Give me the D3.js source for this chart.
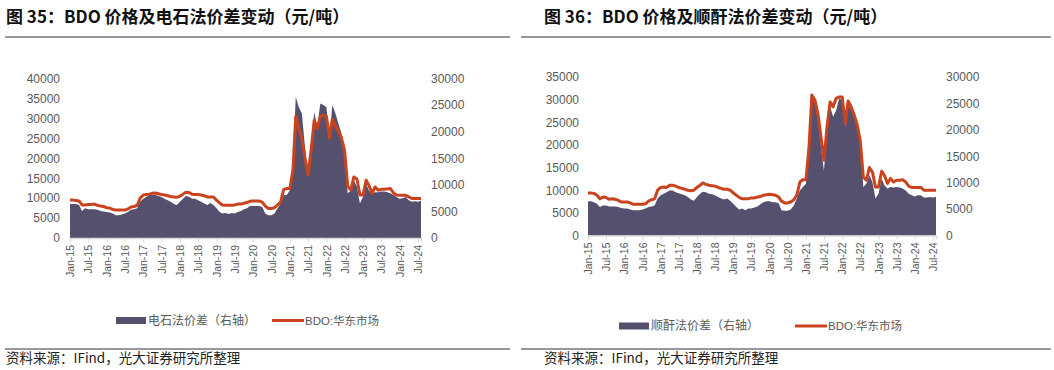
<!DOCTYPE html>
<html>
<head>
<meta charset="utf-8">
<script src="https://cdn.jsdelivr.net/npm/d3@7"></script>
<style>
  body { margin: 0; background: #fff; }
  svg { display: block; }
</style>
</head>
<body>
<div id="chart"></div>
<script>
// monthly observations, Jan-15 .. Aug-24
const months = d3.timeMonth.range(new Date(2015, 0, 1), new Date(2024, 8, 1));
const tickDates = d3.timeMonth.every(6).range(new Date(2015, 0, 1), new Date(2024, 7, 1));

// fig 35: BDO East China price (left axis) and carbide-route spread (right axis)
const bdoPriceA = [
  9500,9500,9400,9300,8300,8300,8400,8400,8500,8200,8000,7900,
  7600,7500,7200,7000,7000,7000,7000,7300,7800,7900,8200,10000,
  10800,10900,11000,11200,11300,11100,10900,10800,10600,10400,10300,10200,
  10500,11000,11500,11400,11000,10900,10900,10800,10600,10300,10300,10300,
  9500,8800,8300,8200,8200,8200,8300,8500,8500,8700,8900,9200,
  9300,9300,9300,9000,8000,7400,7400,7600,8300,9000,12200,12400,
  12400,17000,30500,27500,25000,20000,15800,22000,29500,27500,30500,30800,
  30500,25000,29800,28000,26800,25000,22000,13000,12000,15300,14800,10800,
  10800,14500,13200,11200,12800,12000,12200,12200,12300,12400,11300,10800,
  10700,10700,10700,10300,9900,9900,9900,9900
];
const spreadCarbide = [
  6400,6400,6400,6200,5100,5600,5400,5400,5400,5300,5100,5000,
  4900,4800,4600,4300,4300,4400,4600,4900,5300,5400,5600,6800,
  7400,7750,8100,8100,8100,7900,7700,7400,7100,6800,6400,6200,
  6800,7400,7900,7750,7400,7400,7100,6800,6500,6200,6600,6200,
  5600,4900,4600,4700,4500,4700,4600,4900,5100,5400,5600,6000,
  6000,6000,6000,5850,4600,4300,4300,4600,5600,6500,8100,8100,
  9000,14000,26500,24600,23400,17100,11800,17000,23700,20900,25300,25000,
  24600,19000,25000,23400,21500,19600,17000,8400,8900,10900,9600,6500,
  7750,10250,8900,8400,8600,8600,8750,8750,8600,8400,8100,7700,
  7400,7500,7700,7100,6800,6900,6800,7000
];

// fig 36: BDO East China price (left axis) and maleic-anhydride-route spread (right axis)
const bdoPriceB = [
  9400,9400,9300,8900,8100,8500,8400,8000,8100,8000,7750,7400,
  7400,7400,7200,6900,6900,6900,6900,7000,7600,7900,8100,10000,
  10600,10700,10600,11100,11100,10900,10600,10400,10200,10000,9900,10000,
  10600,11100,11600,11300,11100,11000,10900,10600,10400,10200,10200,10000,
  9400,8900,8400,8100,8100,8100,8300,8300,8500,8600,8900,9000,
  9100,9000,8900,8500,7600,7200,7200,7400,7900,8900,11800,12300,
  12300,19600,31000,29900,27000,21800,16600,24000,29500,28400,30300,30600,
  30600,24700,29700,28400,26600,24400,21000,12900,12200,15000,14000,10700,
  10700,14200,13300,11500,12600,11800,12200,12200,12300,11800,10900,10600,
  10600,10600,10600,10000,10000,10000,10000,10000
];
const spreadMaleic = [
  6500,6500,6300,6000,5400,5700,5700,5500,5500,5500,5400,5200,
  5100,5100,4900,4800,4800,4800,4900,5100,5400,5500,5700,7000,
  7600,7900,8200,8500,8500,8200,8000,7800,7600,7300,6800,6600,
  7300,7900,8300,8200,7900,7800,7600,7300,7000,6800,7000,6600,
  6000,5400,4900,5100,4800,5100,5100,5300,5500,5900,6300,6500,
  6500,6300,6300,6100,4800,4700,4700,4900,5700,7000,8500,9200,
  9800,16800,26900,25000,21800,16800,12300,19300,24400,22500,23700,26000,
  25600,20600,25000,23700,22200,20600,17400,9200,9800,11400,10100,7000,
  7900,10800,9500,8900,9200,9100,9200,9100,8900,8500,7900,7600,
  7400,7600,7600,7200,7200,7300,7200,7300
];

const titles = ["图 35：BDO 价格及电石法价差变动（元/吨）", "图 36：BDO 价格及顺酐法价差变动（元/吨）"];
const areaNames = ["电石法价差（右轴）", "顺酐法价差（右轴）"];
const lineName = "BDO:华东市场";
const sourceText = "资料来源：IFind，光大证券研究所整理";

const AREA_COLOR = "#56506f",
      LINE_COLOR = "#c9431f",
      AXIS_TEXT = "#595959",
      LATIN = "'Liberation Sans', Arial, 'Noto Sans CJK SC', sans-serif",
      CJK = "'Noto Sans CJK SC', 'Liberation Sans', sans-serif";

const svg = d3.select("#chart").append("svg")
  .attr("width", 1054)
  .attr("height", 370);

const panels = [
  { title: titles[0], areaName: areaNames[0], price: bdoPriceA, spread: spreadCarbide, leftMax: 40000,
    left: 5, right: 510, titleX: 6, x0: 70, x1: 421, yb: 238, yt: 78.5,
    lLabelX: 60, rLabelX: 431, legY: 320.5, legRect: 116, legLine: 272 },
  { title: titles[1], areaName: areaNames[1], price: bdoPriceB, spread: spreadMaleic, leftMax: 35000,
    left: 521, right: 1051, titleX: 544, x0: 588, x1: 936, yb: 235.5, yt: 77,
    lLabelX: 579, rLabelX: 946, legY: 326, legRect: 619, legLine: 795 }
];

panels.forEach(drawPanel);

function drawPanel(p) {
  const g = svg.append("g");

  //--------------------------- HEADER / FOOTER
  g.append("text")
    .attr("x", p.titleX).attr("y", 23)
    .attr("font-family", CJK).attr("font-weight", "bold")
    .attr("font-size", 17).attr("fill", "#111")
    .text(p.title);

  g.append("line")
    .attr("x1", p.left).attr("x2", p.right)
    .attr("y1", 37).attr("y2", 37)
    .attr("stroke", "#333").attr("stroke-width", 1);

  g.append("line")
    .attr("x1", p.left).attr("x2", p.right)
    .attr("y1", 349).attr("y2", 349)
    .attr("stroke", "#333").attr("stroke-width", 1);

  g.append("text")
    .attr("x", p.titleX).attr("y", 363)
    .attr("font-family", CJK).attr("font-size", 13.5).attr("fill", "#222")
    .text(sourceText);

  //--------------------------- SCALES
  const x = d3.scaleTime()
    .domain([months[0], months[months.length - 1]])
    .range([p.x0, p.x1]);

  const yL = d3.scaleLinear().domain([0, p.leftMax]).range([p.yb, p.yt]);
  const yR = d3.scaleLinear().domain([0, 30000]).range([p.yb, p.yt]);

  //--------------------------- AREA (right axis)
  g.append("path")
    .datum(p.spread)
    .attr("fill", AREA_COLOR)
    .attr("d", d3.area()
      .x((d, i) => x(months[i]))
      .y0(p.yb)
      .y1(d => yR(d)));

  //--------------------------- X AXIS
  const xg = g.append("g")
    .attr("transform", `translate(0,${p.yb})`)
    .call(d3.axisBottom(x)
      .tickValues(tickDates)
      .tickFormat(d3.timeFormat("%b-%y"))
      .tickSizeOuter(0)
      .tickSize(4));
  xg.select(".domain").attr("stroke", "#d9d9d9").attr("stroke-width", 1.5);
  xg.selectAll(".tick line").attr("stroke", "#d9d9d9");
  xg.selectAll("text")
    .attr("font-family", LATIN).attr("font-size", 10.5).attr("fill", AXIS_TEXT)
    .attr("transform", "rotate(-90)")
    .attr("text-anchor", "end")
    .attr("x", -7).attr("y", 0).attr("dy", "0.35em");

  //--------------------------- Y AXES
  const ylg = g.append("g")
    .attr("transform", `translate(${p.lLabelX},0)`)
    .call(d3.axisLeft(yL).tickValues(d3.range(0, p.leftMax + 1, 5000))
      .tickFormat(d3.format("d")).tickSize(0).tickPadding(0));
  ylg.select(".domain").remove();
  ylg.selectAll("text").attr("font-family", LATIN).attr("font-size", 12).attr("fill", AXIS_TEXT);

  const yrg = g.append("g")
    .attr("transform", `translate(${p.rLabelX},0)`)
    .call(d3.axisRight(yR).tickValues(d3.range(0, 30001, 5000))
      .tickFormat(d3.format("d")).tickSize(0).tickPadding(0));
  yrg.select(".domain").remove();
  yrg.selectAll("text").attr("font-family", LATIN).attr("font-size", 12).attr("fill", AXIS_TEXT);

  //--------------------------- LINE (left axis)
  g.append("path")
    .datum(p.price)
    .attr("fill", "none")
    .attr("stroke", LINE_COLOR)
    .attr("stroke-width", 3)
    .attr("stroke-linejoin", "round")
    .attr("d", d3.line()
      .x((d, i) => x(months[i]))
      .y(d => yL(d)));

  //--------------------------- LEGEND
  const leg = g.append("g");
  leg.append("rect")
    .attr("x", p.legRect).attr("y", p.legY - 3.5)
    .attr("width", 30).attr("height", 7)
    .attr("fill", AREA_COLOR);
  leg.append("text")
    .attr("x", p.legRect + 32).attr("y", p.legY).attr("dy", "0.35em")
    .attr("font-family", CJK).attr("font-size", 12).attr("fill", AXIS_TEXT)
    .text(p.areaName);
  leg.append("line")
    .attr("x1", p.legLine).attr("x2", p.legLine + 32)
    .attr("y1", p.legY).attr("y2", p.legY)
    .attr("stroke", LINE_COLOR).attr("stroke-width", 3);
  leg.append("text")
    .attr("x", p.legLine + 33).attr("y", p.legY).attr("dy", "0.35em")
    .attr("font-family", LATIN).attr("font-size", 11.5).attr("fill", AXIS_TEXT)
    .text(lineName);
}
</script>
</body>
</html>
